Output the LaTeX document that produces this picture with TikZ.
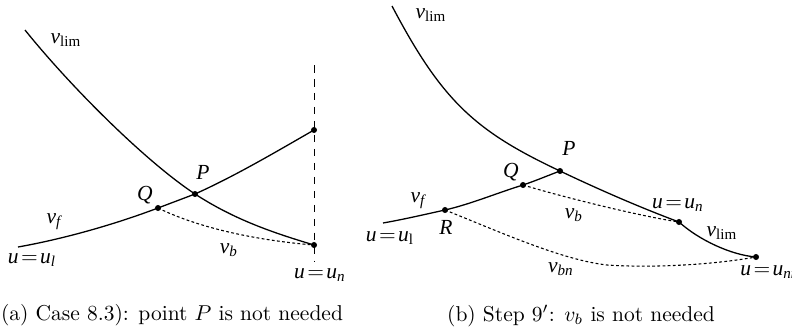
\documentclass[tikz,border=0pt]{standalone}
\usepackage{amsmath}
\usepackage{fontspec}
\newfontfamily\tms{Liberation Serif}
\usetikzlibrary{positioning}
\newcommand{\symit}[1]{\text{\tms\itshape #1}}
\newcommand{\symrm}[1]{\text{\tms #1}}
\newcommand{\ueq}[1]{$\symit{u}\!=\!\symit{u}_{#1}$}
\tikzset{
  curve/.style={line width=0.6pt},
  vback/.style={line width=0.5pt,dash pattern=on 1.3pt off 1.1pt},
  guide/.style={line width=0.4pt,dash pattern=on 3.5pt off 3pt},
  lab/.style={inner sep=0pt,font=\normalsize},
  pt/.style={fill=black}
}
\begin{document}
\begin{tikzpicture}[x=0.465pt,y=-0.465pt]
  \useasboundingbox (0,0) rectangle (792,331);
  % (a) left panel
  \coordinate (La) at (25,30);
  \coordinate (Pa) at (195,194);
  \coordinate (Una) at (314,245);
  \coordinate (Fa) at (18,247);
  \coordinate (Qa) at (158,208);
  \coordinate (Ta) at (314,130);
  \coordinate (Ga) at (314,65);
  \coordinate (Gb) at (314,262);
  \draw[guide] (Ga) -- (Gb);
  \draw[curve] (La) .. controls +(45,56) and +(-50,-33) .. (Pa)
                    .. controls +(40,26) and +(-40,-12) .. (Una);
  \draw[curve] (Fa) .. controls +(45,-8) and +(-45,17) .. (Qa) -- (Pa)
                    .. controls +(40,-18) and +(-40,23) .. (Ta);
  \draw[vback] (Qa) .. controls +(45,22) and +(-50,-4) .. (Una);
  \foreach \p in {Pa,Qa,Una,Ta} \fill[pt] (\p) circle (1.4pt);
  \node[lab] (vlimA) at (66,40) {$\symit{v}_{\symrm{lim}}$};
  \node[lab] (labPa) at (203,172) {$\symit{P}$};
  \node[lab] (labQa) at (145,195) {$\symit{Q}$};
  \node[lab] (vfA) at (54,222) {$\symit{v}_{\symit{f}}$};
  \node[lab] (ulA) at (32,260) {\ueq{\symit{l}}};
  \node[lab] (vbA) at (229,250) {$\symit{v}_{\symit{b}}$};
  \node[lab] (unA) at (320,275) {\ueq{\symit{n}}};
  \node[lab] (capA) at (172,315) {(a) Case 8.3): point $P$ is not needed};
  % (b) right panel
  \coordinate (Lb) at (392,6);
  \coordinate (Pb) at (560,171);
  \coordinate (Unb) at (679,222);
  \coordinate (Unnb) at (756,257);
  \coordinate (Fb) at (383,223);
  \coordinate (Rb) at (445,210);
  \coordinate (Qb) at (523,185);
  \coordinate (Mb) at (607,265);
  \draw[curve] (Lb) .. controls +(50,95) and +(-85,-40) .. (Pb)
                    .. controls +(40,19) and +(-40,-15) .. (Unb);
  \draw[curve] (Unb) .. controls +(20,18) and +(-25,-2) .. (Unnb);
  \draw[curve] (Fb) .. controls +(20,-3.5) and +(-20,4.4) .. (Rb)
                    .. controls +(26,-6) and +(-26,8) .. (Qb)
                    .. controls +(12,-4) and +(-12,4.5) .. (Pb);
  \draw[vback] (Qb) .. controls +(40,12) and +(-40,-6) .. (Unb);
  \draw[vback] (Rb) .. controls +(55,22) and +(-45,-5) .. (Mb)
                    .. controls +(45,3) and +(-45,8) .. (Unnb);
  \foreach \p in {Pb,Qb,Rb,Unb,Unnb} \fill[pt] (\p) circle (1.4pt);
  \node[lab] (vlimB) at (431,15) {$\symit{v}_{\symrm{lim}}$};
  \node[lab] (labPb) at (569,148) {$\symit{P}$};
  \node[lab] (labQb) at (511,172) {$\symit{Q}$};
  \node[lab] (vfB) at (418,201) {$\symit{v}_{\symit{f}}$};
  \node[lab] (labRb) at (446,227) {$\symit{R}$};
  \node[lab] (ulB) at (390,238) {\ueq{\symrm{l}}};
  \node[lab] (vbB) at (574,215) {$\symit{v}_{\symit{b}}$};
  \node[lab] (unB) at (678,205) {\ueq{\symit{n}}};
  \node[lab] (vlimC) at (722,233) {$\symit{v}_{\symrm{lim}}$};
  \node[lab] (vbnB) at (561,269) {$\symit{v}_{\symit{bn}}$};
  \node[lab,anchor=west] (unnB) at (740,272) {\ueq{\symit{nn}}};
  \node[lab] (capB) at (581,316) {(b) Step 9$'$: $v_b$ is not needed};
\end{tikzpicture}
\end{document}
